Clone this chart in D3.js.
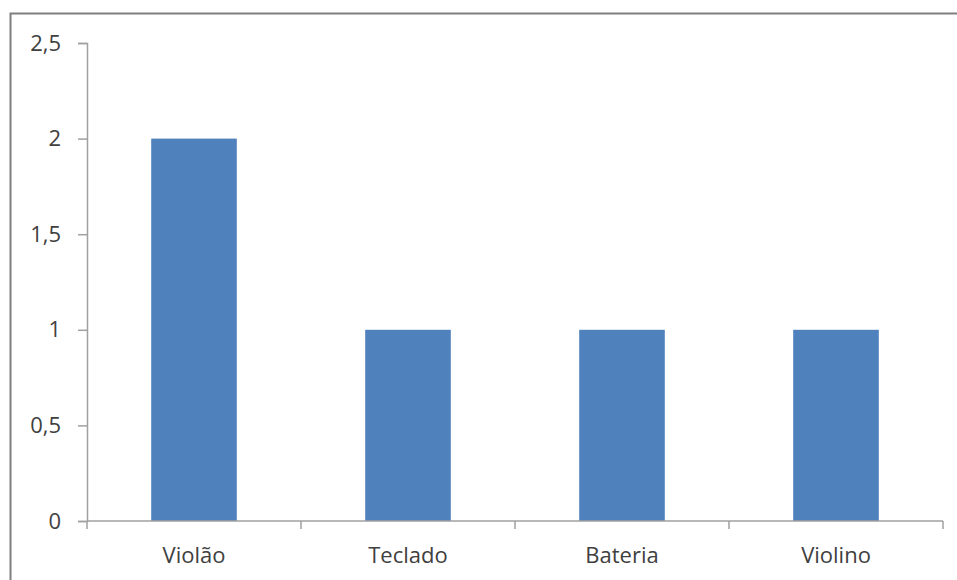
<!DOCTYPE html>
<html>
<head>
<meta charset="utf-8">
<script src="https://cdn.jsdelivr.net/npm/d3@7"></script>
<style>
  body { margin: 0; background: #fff; }
  svg text { font-family: "Open Sans", sans-serif; fill: #404040; }
</style>
</head>
<body>
<div id="chart"></div>
<script>
// Data
const categories = ["Violão", "Teclado", "Bateria", "Violino"]
const values = [2, 1, 1, 1]
const yTicks = [0, 0.5, 1, 1.5, 2, 2.5]

const W = 957, H = 580
const plot = { left: 87, right: 943, top: 43, bottom: 521 }

const svg = d3.select("#chart").append("svg")
    .attr("width", W)
    .attr("height", H)

// frame (outer border of the original picture)
svg.append("path")
    .attr("d", "M10.5," + H + " V13.5 H" + W)
    .attr("fill", "none")
    .attr("stroke", "#7f7f7f")
    .attr("stroke-width", 2)

// scales
const x = d3.scaleBand()
    .domain(categories)
    .range([plot.left, plot.right])
    .paddingInner(0.6)
    .paddingOuter(0.3)

const y = d3.scaleLinear()
    .domain([0, 2.5])
    .range([plot.bottom, plot.top])

const fmt = d => String(d).replace(".", ",")

// bars
svg.selectAll(".bar")
    .data(values)
    .enter()
    .append("rect")
    .attr("class", "bar")
    .attr("x", (d, i) => x(categories[i]))
    .attr("y", d => y(d))
    .attr("width", x.bandwidth())
    .attr("height", d => y(0) - y(d))
    .attr("fill", "#4f81bd")

// y axis
const yAxis = svg.append("g")
    .attr("transform", "translate(" + plot.left + ",0)")
    .call(d3.axisLeft(y).tickValues(yTicks).tickFormat(fmt).tickSize(9).tickPadding(17))
yAxis.select(".domain").attr("stroke", "#a0a0a0").attr("stroke-width", 1.5)
yAxis.selectAll(".tick line").attr("stroke", "#a0a0a0").attr("stroke-width", 1.5)
yAxis.selectAll(".tick text")
    .attr("font-family", "'Open Sans', sans-serif")
    .attr("font-size", 22)
    .attr("fill", "#404040")

// x axis: ticks sit on the category boundaries
const xAxis = svg.append("g")
    .attr("transform", "translate(0," + plot.bottom + ")")
xAxis.append("line")
    .attr("x1", plot.left).attr("x2", plot.right)
    .attr("stroke", "#a0a0a0").attr("stroke-width", 1.5)
xAxis.selectAll(".xtick")
    .data(d3.range(categories.length + 1))
    .enter()
    .append("line")
    .attr("x1", i => plot.left + i * (plot.right - plot.left) / categories.length)
    .attr("x2", i => plot.left + i * (plot.right - plot.left) / categories.length)
    .attr("y1", 0).attr("y2", 8)
    .attr("stroke", "#a0a0a0").attr("stroke-width", 1.5)
xAxis.selectAll(".xlabel")
    .data(categories)
    .enter()
    .append("text")
    .attr("x", d => x(d) + x.bandwidth() / 2)
    .attr("y", 42)
    .attr("text-anchor", "middle")
    .attr("font-size", 22)
    .text(d => d)
</script>
</body>
</html>
